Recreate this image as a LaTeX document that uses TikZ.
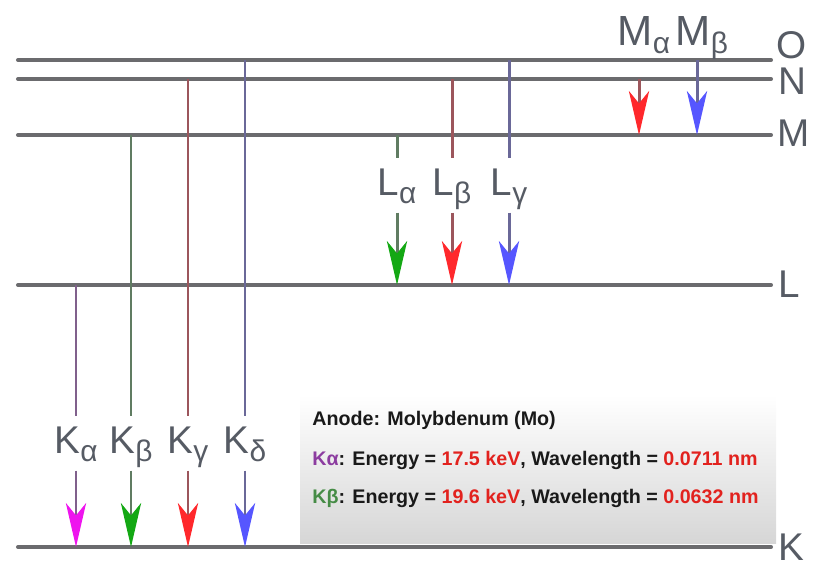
\documentclass[tikz,border=0pt]{standalone}
\usepackage{fontspec}
\setmainfont{Liberation Sans}
\usetikzlibrary{arrows.meta, positioning}
\definecolor{levelgray}{RGB}{107,107,110}
\definecolor{labelgray}{RGB}{86,91,100}
\definecolor{purpleline}{RGB}{128,96,140}
\definecolor{greenline}{RGB}{96,124,98}
\definecolor{redline}{RGB}{156,86,92}
\definecolor{blueline}{RGB}{106,104,152}
\definecolor{tipmagenta}{RGB}{238,20,238}
\definecolor{tipgreen}{RGB}{20,168,20}
\definecolor{tipred}{RGB}{255,40,44}
\definecolor{tipblue}{RGB}{86,86,255}
\definecolor{infored}{RGB}{226,34,30}
\definecolor{infopurple}{RGB}{140,60,160}
\definecolor{infogreen}{RGB}{70,140,70}

% lowered greek index of a line label
\newcommand{\lsub}[1]{\raisebox{-5pt}{\fontsize{17}{18}\selectfont #1}}

\tikzset{
  level/.style={line width=2.3pt, levelgray, line cap=round},
  lvlabel/.style={anchor=west, inner sep=0pt, labelgray, font=\fontsize{22}{24}\selectfont},
  xlabel/.style={anchor=base, labelgray, inner sep=0pt, outer sep=5pt, text height=16pt, text depth=5pt, font=\fontsize{22}{24}\selectfont},
  ray/.style={line width=1.7pt},
  rayhead/.style={-{Stealth[length=25pt, width=11.5pt, inset=7pt, color=#1]}},
  infotext/.style={anchor=base west, inner sep=0pt, font=\bfseries\fontsize{11.2}{13}\selectfont},
}

\begin{document}
\begin{tikzpicture}[x=0.02cm, y=-0.02cm]
  \useasboundingbox (0,0) rectangle (817,566);

  % energy levels
  \coordinate (lvO) at (18,60);
  \coordinate (lvN) at (18,79);
  \coordinate (lvM) at (18,135);
  \coordinate (lvL) at (18,285);
  \coordinate (lvK) at (18,547);
  \draw[level] (lvO) -- ++(753,0);
  \draw[level] (lvN) -- ++(753,0);
  \draw[level] (lvM) -- ++(753,0);
  \draw[level] (lvL) -- ++(753,0);
  \draw[level] (lvK) -- ++(753,0);

  \node[lvlabel] (labO) at (776,45) {O};
  \node[lvlabel] (labN) at (778,81) {N};
  \node[lvlabel] (labM) at (777,133) {M};
  \node[lvlabel] (labL) at (778,284) {L};
  \node[lvlabel] (labK) at (778,547) {K};

  % K series
  \node[xlabel] (Ka) at (76,453) {K\lsub{α}};
  \node[xlabel] (Kb) at (131,453) {K\lsub{β}};
  \node[xlabel] (Kg) at (188,453) {K\lsub{γ}};
  \node[xlabel] (Kd) at (245,453) {K\lsub{δ}};
  \draw[ray, purpleline] (Ka |- lvL) -- (Ka);
  \draw[ray, purpleline, rayhead=tipmagenta] (Ka) -- (Ka |- lvK);
  \draw[ray, greenline] (Kb |- lvM) -- (Kb);
  \draw[ray, greenline, rayhead=tipgreen] (Kb) -- (Kb |- lvK);
  \draw[ray, redline] (Kg |- lvN) -- (Kg);
  \draw[ray, redline, rayhead=tipred] (Kg) -- (Kg |- lvK);
  \draw[ray, blueline] (Kd |- lvO) -- (Kd);
  \draw[ray, blueline, rayhead=tipblue] (Kd) -- (Kd |- lvK);

  % L series
  \node[xlabel] (La) at (397,195) {L\lsub{α}};
  \node[xlabel] (Lb) at (452,195) {L\lsub{β}};
  \node[xlabel] (Lg) at (509,195) {L\lsub{γ}};
  \draw[ray, greenline] (La |- lvM) -- (La);
  \draw[ray, greenline, rayhead=tipgreen] (La) -- (La |- lvL);
  \draw[ray, redline] (Lb |- lvN) -- (Lb);
  \draw[ray, redline, rayhead=tipred] (Lb) -- (Lb |- lvL);
  \draw[ray, blueline] (Lg |- lvO) -- (Lg);
  \draw[ray, blueline, rayhead=tipblue] (Lg) -- (Lg |- lvL);

  % M series
  \node[xlabel, font=\fontsize{24}{26}\selectfont] (Ma) at (644,45) {M\lsub{α}};
  \node[xlabel, font=\fontsize{24}{26}\selectfont] (Mb) at (702,45) {M\lsub{β}};
  \coordinate (ma) at (639,0);
  \coordinate (mb) at (697,0);
  \draw[ray, redline, rayhead=tipred] (ma |- lvN) -- (ma |- lvM);
  \draw[ray, blueline, rayhead=tipblue] (mb |- lvO) -- (mb |- lvM);

  % info box
  \shade[top color=white, middle color=black!3, bottom color=black!16] (300,395) rectangle (776,543);
  \node[infotext, black!90] (infoT) at (312,425) {Anode: Molybdenum (Mo)};
  \node[infotext, black!90] (infoA) at (312,465) {\textcolor{infopurple}{Kα}: Energy = \textcolor{infored}{17.5 keV}, Wavelength = \textcolor{infored}{0.0711 nm}};
  \node[infotext, black!90] (infoB) at (312,503) {\textcolor{infogreen}{Kβ}: Energy = \textcolor{infored}{19.6 keV}, Wavelength = \textcolor{infored}{0.0632 nm}};
\end{tikzpicture}
\end{document}
